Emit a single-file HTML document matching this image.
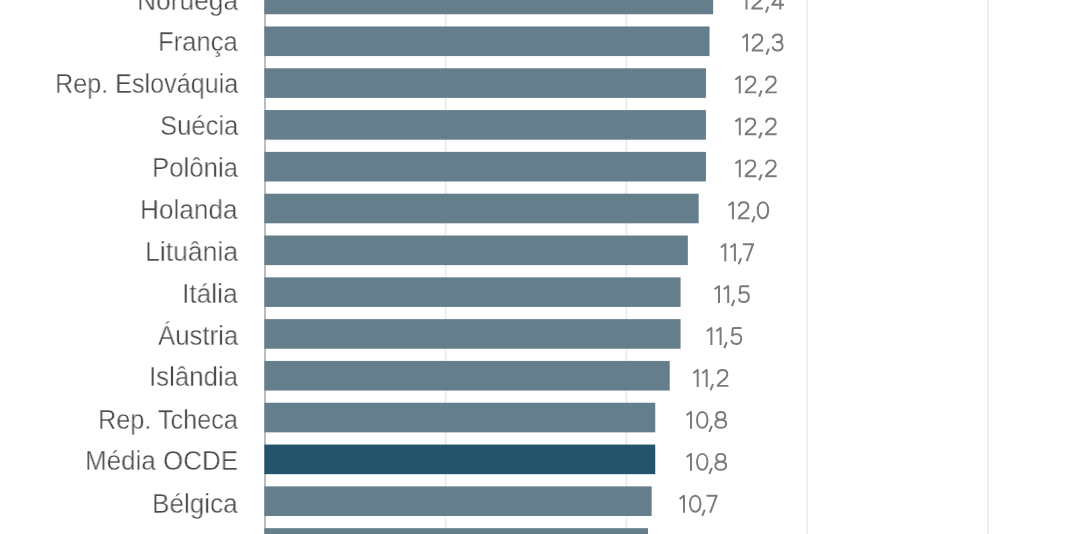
<!DOCTYPE html>
<html><head><meta charset="utf-8"><style>
html,body{margin:0;padding:0;background:#fff;width:1068px;height:534px;overflow:hidden;position:relative}
body{font-family:"Liberation Sans",sans-serif;}
.g{position:absolute;top:0;height:534px;width:2px;background:#efefef}
.ax{position:absolute;top:0;height:534px;left:264px;width:2px;background:#bdbdbd}
.b{position:absolute;left:264.4px;height:29.6px;background:#647e8c}
.b.d{background:#23546b}
.vs{position:absolute;overflow:visible}
.bars{position:absolute;left:0;top:0}
.l,.v{position:absolute;will-change:transform;height:30px;line-height:30px;white-space:nowrap;transform-origin:0 0}
.l{font-size:27.0px;color:#4c4c4c;-webkit-text-stroke:0.35px #fff}
.v{font-size:26.5px;color:#777;-webkit-text-stroke:0.5px #fff}
#w{position:absolute;left:0;top:0;width:1068px;height:534px;}
</style></head><body><div id="w">
<svg class="bars" width="1068" height="534" viewBox="0 0 1068 534"><rect x="444.60" y="0" width="2" height="534" fill="#ededed"/><rect x="625.40" y="0" width="2" height="534" fill="#ededed"/><rect x="806.20" y="0" width="2" height="534" fill="#ededed"/><rect x="987.00" y="0" width="2" height="534" fill="#ededed"/><rect x="264" y="0" width="2" height="534" fill="#bdbdbd"/><rect x="264.4" y="-15.35" width="448.76" height="29.6" fill="#647e8c"/><rect x="264.4" y="26.46" width="445.14" height="29.6" fill="#647e8c"/><rect x="264.4" y="68.27" width="441.52" height="29.6" fill="#647e8c"/><rect x="264.4" y="110.08" width="441.52" height="29.6" fill="#647e8c"/><rect x="264.4" y="151.89" width="441.52" height="29.6" fill="#647e8c"/><rect x="264.4" y="193.70" width="434.28" height="29.6" fill="#647e8c"/><rect x="264.4" y="235.51" width="423.42" height="29.6" fill="#647e8c"/><rect x="264.4" y="277.32" width="416.18" height="29.6" fill="#647e8c"/><rect x="264.4" y="319.13" width="416.18" height="29.6" fill="#647e8c"/><rect x="264.4" y="360.94" width="405.33" height="29.6" fill="#647e8c"/><rect x="264.4" y="402.75" width="390.85" height="29.6" fill="#647e8c"/><rect x="264.4" y="444.56" width="390.85" height="29.6" fill="#23546b"/><rect x="264.4" y="486.37" width="387.23" height="29.6" fill="#647e8c"/><rect x="264.4" y="528.18" width="383.61" height="29.6" fill="#647e8c"/></svg>
<div class="l" style="left:136.85px;top:-14.01px;transform:scaleX(0.9763)">Noruega</div>
<svg class="vs" style="left:741px;top:-13px" width="52" height="30" viewBox="0 0 52 30"><g fill="none" stroke="#7b7b7b" stroke-width="2.0" transform="translate(0.500,22.550) scale(1,0.98)"><path transform="translate(0,0)" d="M5.0,0 L5.0,-17.9 M5.4,-17.7 L0.6,-14.0"/><path transform="translate(9.8,0)" d="M1.0,-13.0 C1.3,-16.3 3.3,-17.25 5.8,-17.25 C8.7,-17.25 10.5,-15.5 10.5,-13.0 C10.5,-10.6 9.2,-9.1 6.8,-7.2 C4.4,-5.3 1.3,-3.0 1.1,-1.05 M0.05,-1.05 L11.6,-1.05"/><path transform="translate(23.6,0)" d="M3.2,-3.0 L0.8,3.2"/><path transform="translate(29.9,0)" d="M8.9,0 L8.9,-18.3 M9.4,-17.6 L1.05,-5.2 L1.05,-4.7 M0,-4.95 L12.6,-4.95"/></g></svg>
<div class="l" style="left:158.31px;top:27.42px;transform:scaleX(0.9487)">França</div>
<svg class="vs" style="left:742px;top:29px" width="52" height="30" viewBox="0 0 52 30"><g fill="none" stroke="#7b7b7b" stroke-width="2.0" transform="translate(0.000,22.480) scale(1,0.98)"><path transform="translate(0,0)" d="M5.0,0 L5.0,-17.9 M5.4,-17.7 L0.6,-14.0"/><path transform="translate(9.7,0)" d="M1.0,-13.0 C1.3,-16.3 3.3,-17.25 5.8,-17.25 C8.7,-17.25 10.5,-15.5 10.5,-13.0 C10.5,-10.6 9.2,-9.1 6.8,-7.2 C4.4,-5.3 1.3,-3.0 1.1,-1.05 M0.05,-1.05 L11.6,-1.05"/><path transform="translate(23.6,0)" d="M3.2,-3.0 L0.8,3.2"/><path transform="translate(29.9,0)" d="M0.9,-13.4 C1.2,-16.2 3.2,-17.25 5.6,-17.25 C8.3,-17.25 10.0,-15.6 10.0,-13.3 C10.0,-11.0 8.3,-9.6 5.6,-9.6 L4.0,-9.6 M5.6,-9.6 C8.8,-9.6 10.65,-7.9 10.65,-5.2 C10.65,-2.5 8.6,-1.05 5.8,-1.05 C3.0,-1.05 1.0,-2.3 0.7,-5.0"/></g></svg>
<div class="l" style="left:54.65px;top:69.45px;transform:scaleX(0.9326)">Rep. Eslováquia</div>
<svg class="vs" style="left:734px;top:71px" width="52" height="30" viewBox="0 0 52 30"><g fill="none" stroke="#7b7b7b" stroke-width="2.0" transform="translate(0.800,22.410) scale(1,0.98)"><path transform="translate(0,0)" d="M5.0,0 L5.0,-17.9 M5.4,-17.7 L0.6,-14.0"/><path transform="translate(9.9,0)" d="M1.0,-13.0 C1.3,-16.3 3.3,-17.25 5.8,-17.25 C8.7,-17.25 10.5,-15.5 10.5,-13.0 C10.5,-10.6 9.2,-9.1 6.8,-7.2 C4.4,-5.3 1.3,-3.0 1.1,-1.05 M0.05,-1.05 L11.6,-1.05"/><path transform="translate(23.6,0)" d="M3.2,-3.0 L0.8,3.2"/><path transform="translate(30.3,0)" d="M1.0,-13.0 C1.3,-16.3 3.3,-17.25 5.8,-17.25 C8.7,-17.25 10.5,-15.5 10.5,-13.0 C10.5,-10.6 9.2,-9.1 6.8,-7.2 C4.4,-5.3 1.3,-3.0 1.1,-1.05 M0.05,-1.05 L11.6,-1.05"/></g></svg>
<div class="l" style="left:159.57px;top:111.08px;transform:scaleX(0.9496)">Suécia</div>
<svg class="vs" style="left:734px;top:113px" width="52" height="30" viewBox="0 0 52 30"><g fill="none" stroke="#7b7b7b" stroke-width="2.0" transform="translate(0.800,22.340) scale(1,0.98)"><path transform="translate(0,0)" d="M5.0,0 L5.0,-17.9 M5.4,-17.7 L0.6,-14.0"/><path transform="translate(9.9,0)" d="M1.0,-13.0 C1.3,-16.3 3.3,-17.25 5.8,-17.25 C8.7,-17.25 10.5,-15.5 10.5,-13.0 C10.5,-10.6 9.2,-9.1 6.8,-7.2 C4.4,-5.3 1.3,-3.0 1.1,-1.05 M0.05,-1.05 L11.6,-1.05"/><path transform="translate(23.6,0)" d="M3.2,-3.0 L0.8,3.2"/><path transform="translate(30.3,0)" d="M1.0,-13.0 C1.3,-16.3 3.3,-17.25 5.8,-17.25 C8.7,-17.25 10.5,-15.5 10.5,-13.0 C10.5,-10.6 9.2,-9.1 6.8,-7.2 C4.4,-5.3 1.3,-3.0 1.1,-1.05 M0.05,-1.05 L11.6,-1.05"/></g></svg>
<div class="l" style="left:151.90px;top:153.01px;transform:scaleX(0.9556)">Polônia</div>
<svg class="vs" style="left:734px;top:155px" width="52" height="30" viewBox="0 0 52 30"><g fill="none" stroke="#7b7b7b" stroke-width="2.0" transform="translate(0.800,22.270) scale(1,0.98)"><path transform="translate(0,0)" d="M5.0,0 L5.0,-17.9 M5.4,-17.7 L0.6,-14.0"/><path transform="translate(9.9,0)" d="M1.0,-13.0 C1.3,-16.3 3.3,-17.25 5.8,-17.25 C8.7,-17.25 10.5,-15.5 10.5,-13.0 C10.5,-10.6 9.2,-9.1 6.8,-7.2 C4.4,-5.3 1.3,-3.0 1.1,-1.05 M0.05,-1.05 L11.6,-1.05"/><path transform="translate(23.6,0)" d="M3.2,-3.0 L0.8,3.2"/><path transform="translate(30.3,0)" d="M1.0,-13.0 C1.3,-16.3 3.3,-17.25 5.8,-17.25 C8.7,-17.25 10.5,-15.5 10.5,-13.0 C10.5,-10.6 9.2,-9.1 6.8,-7.2 C4.4,-5.3 1.3,-3.0 1.1,-1.05 M0.05,-1.05 L11.6,-1.05"/></g></svg>
<div class="l" style="left:140.36px;top:195.24px;transform:scaleX(0.9705)">Holanda</div>
<svg class="vs" style="left:727px;top:197px" width="52" height="30" viewBox="0 0 52 30"><g fill="none" stroke="#7b7b7b" stroke-width="2.0" transform="translate(0.900,22.200) scale(1,0.98)"><path transform="translate(0,0)" d="M5.0,0 L5.0,-17.9 M5.4,-17.7 L0.6,-14.0"/><path transform="translate(9.9,0)" d="M1.0,-13.0 C1.3,-16.3 3.3,-17.25 5.8,-17.25 C8.7,-17.25 10.5,-15.5 10.5,-13.0 C10.5,-10.6 9.2,-9.1 6.8,-7.2 C4.4,-5.3 1.3,-3.0 1.1,-1.05 M0.05,-1.05 L11.6,-1.05"/><path transform="translate(23.6,0)" d="M3.2,-3.0 L0.8,3.2"/><path transform="translate(28.8,0)" d="M6.25,-17.25 C9.2,-17.25 11.45,-14.3 11.45,-9.15 C11.45,-4.0 9.2,-1.05 6.25,-1.05 C3.3,-1.05 1.05,-4.0 1.05,-9.15 C1.05,-14.3 3.3,-17.25 6.25,-17.25 Z"/></g></svg>
<div class="l" style="left:144.83px;top:237.17px;transform:scaleX(0.9848)">Lituânia</div>
<svg class="vs" style="left:720px;top:239px" width="52" height="30" viewBox="0 0 52 30"><g fill="none" stroke="#7b7b7b" stroke-width="2.0" transform="translate(0.300,22.130) scale(1,0.98)"><path transform="translate(0,0)" d="M5.0,0 L5.0,-17.9 M5.4,-17.7 L0.6,-14.0"/><path transform="translate(9.6,0)" d="M5.0,0 L5.0,-17.9 M5.4,-17.7 L0.6,-14.0"/><path transform="translate(17.6,0)" d="M3.2,-3.0 L0.8,3.2"/><path transform="translate(22.2,0)" d="M0.4,-17.25 L11.5,-17.25 M10.6,-17.3 L4.2,0"/></g></svg>
<div class="l" style="left:182.36px;top:278.50px;transform:scaleX(0.9761)">Itália</div>
<svg class="vs" style="left:714px;top:281px" width="52" height="30" viewBox="0 0 52 30"><g fill="none" stroke="#7b7b7b" stroke-width="2.0" transform="translate(0.000,22.060) scale(1,0.98)"><path transform="translate(0,0)" d="M5.0,0 L5.0,-17.9 M5.4,-17.7 L0.6,-14.0"/><path transform="translate(9.2,0)" d="M5.0,0 L5.0,-17.9 M5.4,-17.7 L0.6,-14.0"/><path transform="translate(17.1,0)" d="M3.2,-3.0 L0.8,3.2"/><path transform="translate(24.1,0)" d="M2.2,-17.25 L11.0,-17.25 M2.3,-17.6 L1.7,-9.0 M1.6,-9.3 C2.8,-10.6 4.4,-11.1 6.0,-11.1 C9.2,-11.1 10.75,-8.8 10.75,-6.0 C10.75,-2.9 8.6,-1.05 5.8,-1.05 C3.1,-1.05 1.2,-2.5 0.9,-4.9"/></g></svg>
<div class="l" style="left:157.80px;top:320.73px;transform:scaleX(0.9547)">Áustria</div>
<svg class="vs" style="left:706px;top:322px" width="52" height="30" viewBox="0 0 52 30"><g fill="none" stroke="#7b7b7b" stroke-width="2.0" transform="translate(0.400,22.990) scale(1,0.98)"><path transform="translate(0,0)" d="M5.0,0 L5.0,-17.9 M5.4,-17.7 L0.6,-14.0"/><path transform="translate(9.2,0)" d="M5.0,0 L5.0,-17.9 M5.4,-17.7 L0.6,-14.0"/><path transform="translate(17.1,0)" d="M3.2,-3.0 L0.8,3.2"/><path transform="translate(24.1,0)" d="M2.2,-17.25 L11.0,-17.25 M2.3,-17.6 L1.7,-9.0 M1.6,-9.3 C2.8,-10.6 4.4,-11.1 6.0,-11.1 C9.2,-11.1 10.75,-8.8 10.75,-6.0 C10.75,-2.9 8.6,-1.05 5.8,-1.05 C3.1,-1.05 1.2,-2.5 0.9,-4.9"/></g></svg>
<div class="l" style="left:148.91px;top:362.46px;transform:scaleX(0.9570)">Islândia</div>
<svg class="vs" style="left:692px;top:364px" width="52" height="30" viewBox="0 0 52 30"><g fill="none" stroke="#7b7b7b" stroke-width="2.0" transform="translate(0.700,22.920) scale(1,0.98)"><path transform="translate(0,0)" d="M5.0,0 L5.0,-17.9 M5.4,-17.7 L0.6,-14.0"/><path transform="translate(9.0,0)" d="M5.0,0 L5.0,-17.9 M5.4,-17.7 L0.6,-14.0"/><path transform="translate(17.1,0)" d="M3.2,-3.0 L0.8,3.2"/><path transform="translate(24.1,0)" d="M1.0,-13.0 C1.3,-16.3 3.3,-17.25 5.8,-17.25 C8.7,-17.25 10.5,-15.5 10.5,-13.0 C10.5,-10.6 9.2,-9.1 6.8,-7.2 C4.4,-5.3 1.3,-3.0 1.1,-1.05 M0.05,-1.05 L11.6,-1.05"/></g></svg>
<div class="l" style="left:98.04px;top:404.59px;transform:scaleX(0.9355)">Rep. Tcheca</div>
<svg class="vs" style="left:686px;top:406px" width="52" height="30" viewBox="0 0 52 30"><g fill="none" stroke="#7b7b7b" stroke-width="2.0" transform="translate(0.000,22.850) scale(1,0.98)"><path transform="translate(0,0)" d="M5.0,0 L5.0,-17.9 M5.4,-17.7 L0.6,-14.0"/><path transform="translate(10.0,0)" d="M6.25,-17.25 C9.2,-17.25 11.45,-14.3 11.45,-9.15 C11.45,-4.0 9.2,-1.05 6.25,-1.05 C3.3,-1.05 1.05,-4.0 1.05,-9.15 C1.05,-14.3 3.3,-17.25 6.25,-17.25 Z"/><path transform="translate(22.6,0)" d="M3.2,-3.0 L0.8,3.2"/><path transform="translate(28.3,0)" d="M6.45,-17.25 C9.3,-17.25 10.95,-15.7 10.95,-13.3 C10.95,-10.9 9.3,-9.25 6.45,-9.25 C3.6,-9.25 1.95,-10.9 1.95,-13.3 C1.95,-15.7 3.6,-17.25 6.45,-17.25 Z M6.45,-9.25 C9.8,-9.25 11.85,-7.5 11.85,-5.05 C11.85,-2.5 9.8,-1.05 6.45,-1.05 C3.1,-1.05 1.05,-2.5 1.05,-5.05 C1.05,-7.5 3.1,-9.25 6.45,-9.25 Z"/></g></svg>
<div class="l" style="left:84.98px;top:446.22px;transform:scaleX(0.9627)">Média OCDE</div>
<svg class="vs" style="left:686px;top:448px" width="52" height="30" viewBox="0 0 52 30"><g fill="none" stroke="#7b7b7b" stroke-width="2.0" transform="translate(0.000,22.780) scale(1,0.98)"><path transform="translate(0,0)" d="M5.0,0 L5.0,-17.9 M5.4,-17.7 L0.6,-14.0"/><path transform="translate(10.0,0)" d="M6.25,-17.25 C9.2,-17.25 11.45,-14.3 11.45,-9.15 C11.45,-4.0 9.2,-1.05 6.25,-1.05 C3.3,-1.05 1.05,-4.0 1.05,-9.15 C1.05,-14.3 3.3,-17.25 6.25,-17.25 Z"/><path transform="translate(22.6,0)" d="M3.2,-3.0 L0.8,3.2"/><path transform="translate(28.3,0)" d="M6.45,-17.25 C9.3,-17.25 10.95,-15.7 10.95,-13.3 C10.95,-10.9 9.3,-9.25 6.45,-9.25 C3.6,-9.25 1.95,-10.9 1.95,-13.3 C1.95,-15.7 3.6,-17.25 6.45,-17.25 Z M6.45,-9.25 C9.8,-9.25 11.85,-7.5 11.85,-5.05 C11.85,-2.5 9.8,-1.05 6.45,-1.05 C3.1,-1.05 1.05,-2.5 1.05,-5.05 C1.05,-7.5 3.1,-9.25 6.45,-9.25 Z"/></g></svg>
<div class="l" style="left:152.27px;top:489.25px;transform:scaleX(0.9676)">Bélgica</div>
<svg class="vs" style="left:679px;top:490px" width="52" height="30" viewBox="0 0 52 30"><g fill="none" stroke="#7b7b7b" stroke-width="2.0" transform="translate(0.000,22.710) scale(1,0.98)"><path transform="translate(0,0)" d="M5.0,0 L5.0,-17.9 M5.4,-17.7 L0.6,-14.0"/><path transform="translate(10.0,0)" d="M6.25,-17.25 C9.2,-17.25 11.45,-14.3 11.45,-9.15 C11.45,-4.0 9.2,-1.05 6.25,-1.05 C3.3,-1.05 1.05,-4.0 1.05,-9.15 C1.05,-14.3 3.3,-17.25 6.25,-17.25 Z"/><path transform="translate(22.5,0)" d="M3.2,-3.0 L0.8,3.2"/><path transform="translate(27.0,0)" d="M0.4,-17.25 L11.5,-17.25 M10.6,-17.3 L4.2,0"/></g></svg>
</div></body></html>
